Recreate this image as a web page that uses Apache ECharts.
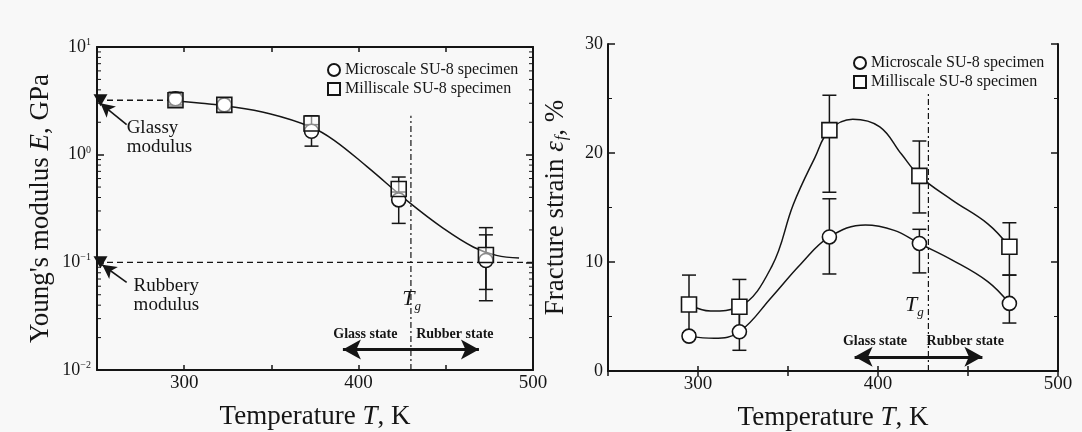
<!DOCTYPE html>
<html>
<head>
<meta charset="utf-8">
<script src="https://cdn.jsdelivr.net/npm/echarts@6/dist/echarts.min.js"></script>
<style>
  html, body { margin: 0; padding: 0; background: #f8f8f8; }
  #main { width: 1082px; height: 432px; }
</style>
</head>
<body>
<div id="main"></div>
<script>
// test temperatures (K)
var tempPts = [295, 323, 373, 423, 473];

// Young's modulus (GPa), left chart
var modMicro = [3.3, 2.9, 1.65, 0.38, 0.104];
var modMilli = [3.2, 2.9, 1.95, 0.48, 0.117];
var modMicroErr = [[2.9, 3.8], [2.7, 3.1], [1.2, 1.9], [0.23, 0.45], [0.044, 0.18]];
var modMilliErr = [[2.8, 3.6], [2.7, 3.1], [1.7, 2.3], [0.38, 0.62], [0.056, 0.21]];
var modCurveT = [296, 310, 323, 349, 373, 386, 405, 429, 448, 466, 479, 492];
var modCurveE = [3.15, 3.0, 2.85, 2.4, 1.8, 1.36, 0.77, 0.36, 0.21, 0.138, 0.116, 0.11];
var glassyModulus = 3.2;
var rubberyModulus = 0.1;
var logMinor = [0.02, 0.03, 0.04, 0.05, 0.06, 0.07, 0.08, 0.09,
                0.2, 0.3, 0.4, 0.5, 0.6, 0.7, 0.8, 0.9,
                2, 3, 4, 5, 6, 7, 8, 9];

// fracture strain (%), right chart
var strainMicro = [3.2, 3.6, 12.3, 11.7, 6.2];
var strainMilli = [6.1, 5.9, 22.1, 17.9, 11.4];
var strainMicroErr = [[2.9, 3.5], [1.9, 5.3], [8.9, 15.8], [9.0, 13.0], [4.4, 8.8]];
var strainMilliErr = [[3.5, 8.8], [3.6, 8.4], [16.4, 25.3], [14.5, 21.1], [8.8, 13.6]];
var milliCurveT = [295, 307, 323, 341, 353, 365, 373, 386, 401, 413, 423, 441, 461, 473];
var milliCurveV = [6.1, 5.5, 5.9, 9.6, 15.3, 19.6, 22.1, 23.1, 22.4, 19.9, 17.9, 15.7, 13.5, 11.4];
var microCurveT = [295, 309, 323, 341, 357, 373, 393, 409, 423, 441, 461, 473];
var microCurveV = [3.2, 3.0, 3.6, 6.8, 9.8, 12.3, 13.4, 12.9, 11.7, 10.2, 8.2, 6.2];

var Tg = 430;
var xTickLabels = [300, 400, 500];

var SERIF = 'Liberation Serif';
var INK = '#151515';

function zip(a, b) {
  var out = [];
  for (var i = 0; i < a.length; i++) out.push([a[i], b[i]]);
  return out;
}
function errData(err) {
  return tempPts.map(function (t, i) { return [t, err[i][0], err[i][1]]; });
}
function renderErr(params, api) {
  var x = api.value(0);
  var p1 = api.coord([x, api.value(1)]);
  var p2 = api.coord([x, api.value(2)]);
  var w = 7;
  var st = { stroke: INK, lineWidth: 1.5 };
  return {
    type: 'group',
    children: [
      { type: 'line', shape: { x1: p1[0], y1: p1[1], x2: p2[0], y2: p2[1] }, style: st },
      { type: 'line', shape: { x1: p1[0] - w, y1: p1[1], x2: p1[0] + w, y2: p1[1] }, style: st },
      { type: 'line', shape: { x1: p2[0] - w, y1: p2[1], x2: p2[0] + w, y2: p2[1] }, style: st }
    ]
  };
}
function renderMinor(params, api) {
  var a = api.coord([250, api.value(1)]);
  var b = api.coord([500, api.value(1)]);
  var st = { stroke: INK, lineWidth: 1 };
  return {
    type: 'group',
    children: [
      { type: 'line', shape: { x1: a[0], y1: a[1], x2: a[0] + 4, y2: a[1] }, style: st },
      { type: 'line', shape: { x1: b[0], y1: b[1], x2: b[0] - 4, y2: b[1] }, style: st }
    ]
  };
}

var richTxt = {
  i: { fontFamily: SERIF, fontStyle: 'italic', fontSize: 27, color: INK },
  sub: { fontFamily: SERIF, fontStyle: 'italic', fontSize: 16, color: INK, verticalAlign: 'bottom', padding: [12, 0, 0, 1] },
  s: { fontFamily: SERIF, fontSize: 10, color: INK, verticalAlign: 'top', padding: [0, 0, 9, 0] }
};
var noteRich = {
  i: { fontFamily: SERIF, fontStyle: 'italic', fontWeight: 'normal', fontSize: 22, color: INK },
  sub: { fontFamily: SERIF, fontStyle: 'italic', fontWeight: 'normal', fontSize: 13, color: INK, padding: [14, 0, 0, 0] }
};

function xAxes(grid) {
  return [
    {
      gridIndex: grid, type: 'value', min: 250, max: 500, interval: 50,
      name: 'Temperature {i|T}, K', nameLocation: 'middle', nameGap: 33,
      nameTextStyle: { fontFamily: SERIF, fontSize: 27, color: INK, rich: richTxt },
      axisLine: { lineStyle: { color: INK, width: 2 } },
      axisTick: { inside: true, length: 5, lineStyle: { color: INK, width: 1.5 } },
      axisLabel: { customValues: xTickLabels, fontFamily: SERIF, fontSize: 19, color: INK, margin: 4 },
      splitLine: { show: false }
    },
    {
      gridIndex: grid, type: 'value', min: 250, max: 500, interval: 50, position: 'top',
      axisLine: { lineStyle: { color: INK, width: 2 } },
      axisTick: { inside: true, length: 5, lineStyle: { color: INK, width: 1.5 } },
      axisLabel: { show: false }, splitLine: { show: false }
    }
  ];
}
function legendAt(left, top) {
  return {
    left: left, top: top, padding: 0, orient: 'vertical', itemGap: 3,
    itemWidth: 12, itemHeight: 12, itemStyle: { opacity: 1 },
    data: ['Microscale SU-8 specimen', 'Milliscale SU-8 specimen'],
    textStyle: { fontFamily: SERIF, fontSize: 16, color: INK }
  };
}

var option = {
  animation: false,
  backgroundColor: '#f8f8f8',
  grid: [
    { left: 97, top: 47, width: 436, height: 323, outerBoundsMode: 'none', containLabel: false },
    { left: 608, top: 44, width: 450, height: 327, outerBoundsMode: 'none', containLabel: false }
  ],
  legend: [legendAt(327, 62), legendAt(853, 55)],
  xAxis: xAxes(0).concat(xAxes(1)),
  yAxis: [
    {
      gridIndex: 0, type: 'log', logBase: 10, min: 0.01, max: 10,
      name: "Young's modulus {i|E}, GPa", nameLocation: 'middle', nameGap: 43,
      nameTextStyle: { fontFamily: SERIF, fontSize: 27, color: INK, rich: richTxt },
      axisLine: { lineStyle: { color: INK, width: 2 } },
      axisTick: { inside: true, length: 7, lineStyle: { color: INK, width: 1.5 } },
      axisLabel: {
        fontFamily: SERIF, fontSize: 18, color: INK, margin: 6, rich: richTxt,
        formatter: function (v) {
          var e = Math.round(Math.log10(v));
          return '10{s|' + (e < 0 ? '\u2212' + (-e) : e) + '}';
        }
      },
      splitLine: { show: false }
    },
    {
      gridIndex: 0, type: 'log', logBase: 10, min: 0.01, max: 10, position: 'right',
      axisLine: { lineStyle: { color: INK, width: 2 } },
      axisTick: { inside: true, length: 7, lineStyle: { color: INK, width: 1.5 } },
      axisLabel: { show: false }, splitLine: { show: false }
    },
    {
      gridIndex: 1, type: 'value', min: 0, max: 30, interval: 10,
      name: 'Fracture strain {i|\u03b5}{sub|f}, %', nameLocation: 'middle', nameGap: 38,
      nameTextStyle: { fontFamily: SERIF, fontSize: 27, color: INK, rich: richTxt },
      axisLine: { lineStyle: { color: INK, width: 2 } },
      axisTick: { inside: true, length: 7, lineStyle: { color: INK, width: 1.5 } },
      minorTick: { show: true, splitNumber: 2, length: 4, lineStyle: { color: INK, width: 1 } },
      axisLabel: { fontFamily: SERIF, fontSize: 18, color: INK, margin: 5 },
      splitLine: { show: false }
    },
    {
      gridIndex: 1, type: 'value', min: 0, max: 30, interval: 10, position: 'right',
      axisLine: { lineStyle: { color: INK, width: 2 } },
      axisTick: { inside: true, length: 7, lineStyle: { color: INK, width: 1.5 } },
      minorTick: { show: true, splitNumber: 2, length: 4, lineStyle: { color: INK, width: 1 } },
      axisLabel: { show: false }, splitLine: { show: false }
    }
  ],
  series: [
    // ---------- left: modulus ----------
    {
      type: 'custom', xAxisIndex: 0, yAxisIndex: 0, silent: true,
      renderItem: renderMinor, data: logMinor.map(function (v) { return [250, v]; })
    },
    {
      type: 'line', xAxisIndex: 0, yAxisIndex: 0, symbol: 'none',
      lineStyle: { color: INK, width: 1.4, type: [6, 4] },
      data: [[250, glassyModulus], [300, glassyModulus]]
    },
    {
      type: 'line', xAxisIndex: 0, yAxisIndex: 0, symbol: 'none',
      lineStyle: { color: INK, width: 1.4, type: [6, 4] },
      data: [[250, rubberyModulus], [500, rubberyModulus]]
    },
    {
      type: 'line', xAxisIndex: 0, yAxisIndex: 0, symbol: 'none',
      lineStyle: { color: INK, width: 1.2, type: [6, 3, 2, 3] },
      data: [[Tg, 0.01], [Tg, 2.3]]
    },
    {
      type: 'line', xAxisIndex: 0, yAxisIndex: 0, symbol: 'none', smooth: 0.4,
      lineStyle: { color: INK, width: 1.5 },
      data: zip(modCurveT, modCurveE),
      markLine: {
        silent: true, symbol: ['none', 'arrow'], symbolSize: [11, 14],
        lineStyle: { color: INK, width: 1.6, type: 'solid' }, label: { show: false },
        data: [
          [{ coord: [267, 1.9] }, { coord: [252, 3.0] }],
          [{ coord: [267, 0.065] }, { coord: [253, 0.095] }]
        ]
      }
    },
    {
      type: 'line', xAxisIndex: 0, yAxisIndex: 0, symbol: 'none', data: [],
      markLine: {
        silent: true, symbol: ['arrow', 'arrow'], symbolSize: [15, 18],
        lineStyle: { color: INK, width: 3, type: 'solid' }, label: { show: false },
        data: [[{ coord: [391, 0.0155] }, { coord: [469, 0.0155] }]]
      }
    },
    {
      type: 'custom', xAxisIndex: 0, yAxisIndex: 0, silent: true,
      renderItem: renderErr, data: errData(modMicroErr), z: 3
    },
    {
      type: 'custom', xAxisIndex: 0, yAxisIndex: 0, silent: true,
      renderItem: renderErr, data: errData(modMilliErr), z: 3
    },
    {
      name: 'Microscale SU-8 specimen', type: 'scatter', xAxisIndex: 0, yAxisIndex: 0,
      symbol: 'circle', symbolSize: 14, z: 4,
      itemStyle: { color: '#fff', borderColor: INK, borderWidth: 1.6, opacity: 1 },
      data: zip(tempPts, modMicro)
    },
    {
      name: 'Milliscale SU-8 specimen', type: 'scatter', xAxisIndex: 0, yAxisIndex: 0,
      symbol: 'rect', symbolSize: 15, z: 5,
      itemStyle: { color: 'rgba(255,255,255,0.5)', borderColor: INK, borderWidth: 1.6, opacity: 1 },
      data: zip(tempPts, modMilli)
    },
    {
      type: 'scatter', xAxisIndex: 0, yAxisIndex: 0, symbol: 'triangle', symbolRotate: 180,
      symbolSize: [14, 12], z: 6, itemStyle: { color: INK, opacity: 1 },
      data: [[252, glassyModulus], [252, rubberyModulus]]
    },
    {
      type: 'scatter', xAxisIndex: 0, yAxisIndex: 0, symbolSize: 0, silent: true, z: 7,
      itemStyle: { opacity: 1 },
      label: {
        show: true, position: 'right', distance: 0, fontFamily: SERIF, fontSize: 19,
        color: INK, lineHeight: 19, rich: noteRich,
        formatter: function (p) { return p.name; }
      },
      data: [
        { name: 'Glassy\nmodulus', value: [267, 1.45] },
        { name: 'Rubbery\nmodulus', value: [271, 0.049] },
        { name: '{i|T}{sub|g}', value: [425, 0.045] },
        { name: 'Glass state', value: [385.5, 0.0215], label: { fontSize: 14, fontWeight: 'bold' } },
        { name: 'Rubber state', value: [433, 0.0215], label: { fontSize: 14, fontWeight: 'bold' } }
      ]
    },
    // ---------- right: fracture strain ----------
    {
      type: 'line', xAxisIndex: 2, yAxisIndex: 2, symbol: 'none',
      lineStyle: { color: INK, width: 1.2, type: [6, 3, 2, 3] },
      data: [[Tg - 2, 0], [Tg - 2, 25.5]]
    },
    {
      type: 'line', xAxisIndex: 2, yAxisIndex: 2, symbol: 'none', smooth: 0.4,
      lineStyle: { color: INK, width: 1.5 },
      data: zip(milliCurveT, milliCurveV)
    },
    {
      type: 'line', xAxisIndex: 2, yAxisIndex: 2, symbol: 'none', smooth: 0.4,
      lineStyle: { color: INK, width: 1.5 },
      data: zip(microCurveT, microCurveV),
      markLine: {
        silent: true, symbol: ['arrow', 'arrow'], symbolSize: [15, 18],
        lineStyle: { color: INK, width: 3, type: 'solid' }, label: { show: false },
        data: [[{ coord: [387, 1.3] }, { coord: [458, 1.3] }]]
      }
    },
    {
      type: 'custom', xAxisIndex: 2, yAxisIndex: 2, silent: true,
      renderItem: renderErr, data: errData(strainMicroErr), z: 3
    },
    {
      type: 'custom', xAxisIndex: 2, yAxisIndex: 2, silent: true,
      renderItem: renderErr, data: errData(strainMilliErr), z: 3
    },
    {
      name: 'Microscale SU-8 specimen', type: 'scatter', xAxisIndex: 2, yAxisIndex: 2,
      symbol: 'circle', symbolSize: 14, z: 4,
      itemStyle: { color: '#fff', borderColor: INK, borderWidth: 1.6, opacity: 1 },
      data: zip(tempPts, strainMicro)
    },
    {
      name: 'Milliscale SU-8 specimen', type: 'scatter', xAxisIndex: 2, yAxisIndex: 2,
      symbol: 'rect', symbolSize: 15, z: 5,
      itemStyle: { color: '#fff', borderColor: INK, borderWidth: 1.6, opacity: 1 },
      data: zip(tempPts, strainMilli)
    },
    {
      type: 'scatter', xAxisIndex: 2, yAxisIndex: 2, symbolSize: 0, silent: true, z: 7,
      itemStyle: { opacity: 1 },
      label: {
        show: true, position: 'right', distance: 0, fontFamily: SERIF, fontSize: 14,
        fontWeight: 'bold', color: INK, rich: noteRich,
        formatter: function (p) { return p.name; }
      },
      data: [
        { name: '{i|T}{sub|g}', value: [415, 6] },
        { name: 'Glass state', value: [380.5, 2.75] },
        { name: 'Rubber state', value: [427, 2.75] }
      ]
    }
  ]
};

var chart = echarts.init(document.getElementById('main'));
chart.setOption(option);
</script>
</body>
</html>
